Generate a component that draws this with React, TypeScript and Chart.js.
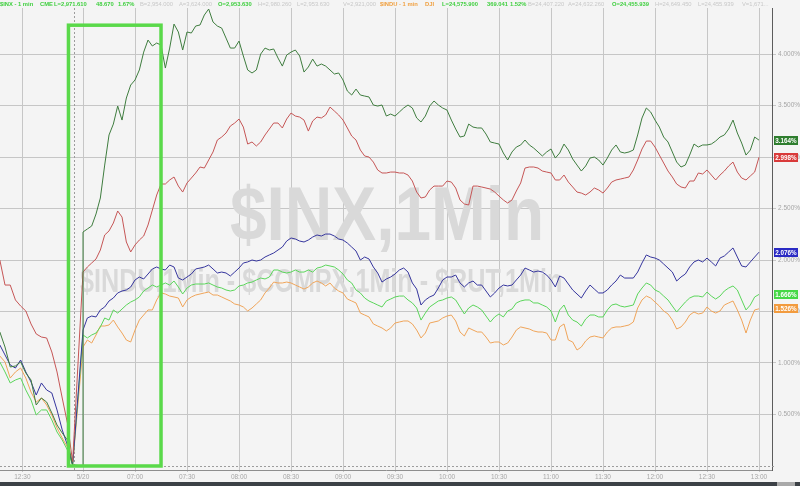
import React, { useEffect, useRef } from "react";
import { Chart, registerables } from "chart.js";

Chart.register(...registerables);

// ---- Data (percent change, minutes relative to 5/20 session start) ----
const prevDayTimes = [-48, -45, -42, -39, -36, -33, -30, -27, -24, -21, -18, -15, -12, -9, -6];
const todayTimes = [
  0, 5, 10, 15, 20, 25, 30, 35, 40, 45, 50, 55, 60, 65, 70, 75, 80, 85, 90, 95,
  100, 105, 110, 115, 120, 125, 130, 135, 140, 145, 150, 155, 160, 165, 170, 175, 180, 185, 190, 195,
  200, 205, 210, 215, 220, 225, 230, 235, 240, 245, 250, 255, 260, 265, 270, 275, 280, 285, 290, 295,
  300, 305, 310, 315, 320, 325, 330, 335, 340, 345, 350, 355, 360, 365, 370, 375, 380, 385, 390,
];
const midTimes = [
  2.5, 7.5, 12.5, 17.5, 22.5, 27.5, 32.5, 37.5, 42.5, 47.5, 52.5, 57.5, 62.5, 67.5, 72.5, 77.5, 82.5, 87.5, 92.5, 97.5,
  102.5, 107.5, 112.5, 117.5, 122.5, 127.5, 132.5, 137.5, 142.5, 147.5, 152.5, 157.5, 162.5, 167.5, 172.5, 177.5, 182.5, 187.5, 192.5, 197.5,
  202.5, 207.5, 212.5, 217.5, 222.5, 227.5, 232.5, 237.5, 242.5, 247.5, 252.5, 257.5, 262.5, 267.5, 272.5, 277.5, 282.5, 287.5, 292.5, 297.5,
  302.5, 307.5, 312.5, 317.5, 322.5, 327.5, 332.5, 337.5, 342.5, 347.5, 352.5, 357.5, 362.5, 367.5, 372.5, 377.5, 382.5, 387.5,
];

const xTickTimes = [-35, 0, 30, 60, 90, 120, 150, 180, 210, 240, 270, 300, 330, 360, 390];
const xTickLabels = [
  "12:30", "5/20", "07:00", "07:30", "08:00", "08:30", "09:00", "09:30",
  "10:00", "10:30", "11:00", "11:30", "12:00", "12:30", "13:00",
];
const yTickValues = [0.5, 1, 1.5, 2, 2.5, 3, 3.5, 4];

const sessionBreakTime = -5;
const highlightFrom = -8.4;
const highlightTo = 45;
const highlightTop = 4.28;
const highlightBottom = 0;

const darkGreenPrev = [1.301, 1.155, 0.961, 0.971, 1.01, 0.903, 0.835, 0.592, 0.66, 0.621, 0.515, 0.398, 0.32, 0.252, 0.01];
const darkGreenOpenGap = 0;
const darkGreenToday = [
  2.272, 2.33, 2.602, 3.214, 3.495, 3.573, 3.748, 4.019, 4.078, 4.087,
  4.058, 4.214, 4.214, 4.272, 4.379, 4.311, 4.252, 4.058, 4.126, 3.845,
  3.845, 4.058, 4.049, 3.883, 4.019, 3.981, 3.874, 3.883, 3.883, 3.806,
  3.748, 3.602, 3.602, 3.583, 3.495, 3.398, 3.398, 3.476, 3.476, 3.34,
  3.495, 3.505, 3.456, 3.272, 3.204, 3.291, 3.282, 3.146, 3.126, 2.971,
  3.097, 3.165, 3.087, 3.01, 3.078, 3.039, 3.068, 2.922, 2.913, 3.0,
  2.922, 3.068, 3.049, 3.049, 3.214, 3.476, 3.359, 3.194, 3.049, 2.903,
  3.019, 3.097, 3.117, 3.155, 3.214, 3.359, 3.136, 3.068, 3.164,
];
const darkGreenMid = [
  2.301, 2.447, 2.922, 3.32, 3.359, 3.699, 3.845, 4.136, 4.107, 3.864,
  4.291, 4.039, 4.204, 4.282, 4.437, 4.272, 4.155, 4.058, 3.981, 3.816,
  4.0, 4.039, 3.961, 3.99, 4.039, 3.825, 3.951, 3.903, 3.845, 3.816,
  3.641, 3.66, 3.592, 3.505, 3.505, 3.417, 3.437, 3.505, 3.379, 3.398,
  3.544, 3.476, 3.359, 3.194, 3.32, 3.282, 3.223, 3.136, 3.039, 3.049,
  3.117, 3.117, 3.049, 3.049, 2.99, 3.126, 2.981, 2.864, 2.99, 2.971,
  2.99, 3.117, 3.039, 3.068, 3.379, 3.437, 3.291, 3.146, 2.951, 2.922,
  3.126, 3.117, 3.126, 3.194, 3.272, 3.233, 3.019, 3.194,
];

const redPrev = [2.0, 1.757, 1.757, 1.612, 1.553, 1.505, 1.379, 1.282, 1.252, 1.243, 1.107, 0.913, 0.66, 0.417, 0.039];
const redToday = [
  1.883, 1.971, 2.097, 2.282, 2.476, 2.175, 2.146, 2.233, 2.485, 2.738,
  2.777, 2.718, 2.748, 2.845, 2.893, 3.049, 3.194, 3.301, 3.369, 3.126,
  3.107, 3.214, 3.33, 3.282, 3.427, 3.388, 3.252, 3.388, 3.408, 3.447,
  3.359, 3.204, 3.068, 3.0, 2.874, 2.845, 2.854, 2.845, 2.767, 2.602,
  2.68, 2.718, 2.767, 2.699, 2.544, 2.718, 2.709, 2.689, 2.621, 2.553,
  2.67, 2.893, 2.903, 2.864, 2.845, 2.777, 2.757, 2.66, 2.631, 2.699,
  2.65, 2.757, 2.786, 2.806, 2.971, 3.155, 3.097, 2.942, 2.806, 2.709,
  2.767, 2.845, 2.874, 2.777, 2.864, 2.951, 2.796, 2.816, 2.998,
];
const redMid = [
  1.932, 2.01, 2.243, 2.359, 2.417, 2.078, 2.194, 2.34, 2.631, 2.738,
  2.806, 2.66, 2.796, 2.903, 2.971, 3.165, 3.233, 3.33, 3.291, 3.146,
  3.146, 3.272, 3.33, 3.369, 3.398, 3.359, 3.35, 3.379, 3.485, 3.408,
  3.282, 3.165, 3.01, 2.951, 2.845, 2.854, 2.845, 2.825, 2.66, 2.612,
  2.718, 2.718, 2.757, 2.583, 2.534, 2.718, 2.699, 2.66, 2.583, 2.583,
  2.748, 2.903, 2.893, 2.854, 2.777, 2.825, 2.709, 2.65, 2.66, 2.68,
  2.699, 2.777, 2.796, 2.874, 3.078, 3.155, 3.019, 2.864, 2.738, 2.699,
  2.767, 2.835, 2.825, 2.825, 2.913, 2.854, 2.777, 2.854,
];

const bluePrev = [1.175, 1.078, 0.981, 0.951, 1.029, 0.913, 0.816, 0.689, 0.806, 0.738, 0.709, 0.544, 0.35, 0.204, 0.01];
const blueToday = [
  1.32, 1.456, 1.515, 1.602, 1.68, 1.709, 1.806, 1.816, 1.913, 1.913,
  1.951, 1.825, 1.835, 1.913, 1.932, 1.913, 1.883, 1.845, 1.922, 1.981,
  1.99, 2.029, 2.068, 2.126, 2.214, 2.184, 2.194, 2.243, 2.252, 2.233,
  2.194, 2.126, 2.0, 2.01, 1.874, 1.816, 1.864, 1.922, 1.777, 1.563,
  1.641, 1.728, 1.835, 1.854, 1.738, 1.796, 1.757, 1.641, 1.728, 1.748,
  1.806, 1.922, 1.883, 1.883, 1.806, 1.845, 1.767, 1.67, 1.699, 1.718,
  1.68, 1.757, 1.854, 1.825, 1.883, 2.049, 2.019, 1.961, 1.883, 1.835,
  1.932, 2.0, 2.019, 1.942, 2.039, 2.117, 1.942, 1.981, 2.076,
];
const blueMid = [
  1.437, 1.447, 1.544, 1.631, 1.699, 1.738, 1.835, 1.864, 1.932, 1.903,
  1.932, 1.806, 1.864, 1.922, 1.951, 1.874, 1.874, 1.883, 1.971, 2.0,
  2.0, 2.049, 2.097, 2.184, 2.204, 2.175, 2.223, 2.233, 2.252, 2.204,
  2.165, 2.087, 2.029, 1.932, 1.786, 1.835, 1.903, 1.883, 1.718, 1.612,
  1.66, 1.806, 1.835, 1.777, 1.777, 1.757, 1.699, 1.68, 1.757, 1.757,
  1.854, 1.903, 1.893, 1.854, 1.738, 1.825, 1.709, 1.631, 1.757, 1.68,
  1.709, 1.796, 1.825, 1.825, 1.971, 2.029, 2.0, 1.922, 1.796, 1.864,
  1.981, 1.981, 1.981, 2.019, 2.078, 2.029, 1.932, 2.029,
];

const brightGreenPrev = [1.01, 0.913, 0.806, 0.835, 0.854, 0.738, 0.641, 0.495, 0.544, 0.544, 0.447, 0.33, 0.252, 0.155, 0.01];
const brightGreenToday = [
  1.272, 1.272, 1.35, 1.417, 1.485, 1.563, 1.612, 1.699, 1.757, 1.757,
  1.757, 1.738, 1.728, 1.767, 1.767, 1.757, 1.728, 1.699, 1.748, 1.777,
  1.806, 1.816, 1.903, 1.883, 1.883, 1.883, 1.903, 1.922, 1.951, 1.932,
  1.864, 1.777, 1.68, 1.602, 1.563, 1.602, 1.641, 1.65, 1.583, 1.417,
  1.544, 1.602, 1.631, 1.612, 1.476, 1.563, 1.515, 1.398, 1.476, 1.505,
  1.583, 1.612, 1.583, 1.563, 1.505, 1.515, 1.466, 1.398, 1.427, 1.466,
  1.447, 1.563, 1.553, 1.553, 1.67, 1.777, 1.709, 1.65, 1.553, 1.544,
  1.631, 1.65, 1.689, 1.621, 1.699, 1.748, 1.612, 1.563, 1.666,
];
const brightGreenMid = [
  1.243, 1.291, 1.437, 1.515, 1.524, 1.592, 1.641, 1.728, 1.738, 1.777,
  1.796, 1.67, 1.757, 1.767, 1.777, 1.738, 1.709, 1.709, 1.757, 1.786,
  1.825, 1.835, 1.903, 1.874, 1.903, 1.883, 1.883, 1.932, 1.942, 1.903,
  1.806, 1.709, 1.631, 1.583, 1.544, 1.621, 1.65, 1.612, 1.534, 1.485,
  1.573, 1.612, 1.641, 1.544, 1.534, 1.544, 1.456, 1.447, 1.447, 1.524,
  1.602, 1.612, 1.583, 1.544, 1.398, 1.563, 1.417, 1.359, 1.466, 1.447,
  1.515, 1.573, 1.544, 1.563, 1.728, 1.757, 1.689, 1.612, 1.495, 1.592,
  1.65, 1.641, 1.65, 1.65, 1.728, 1.709, 1.515, 1.641,
];

const orangePrev = [1.068, 1.01, 0.854, 0.913, 0.951, 0.854, 0.718, 0.621, 0.66, 0.592, 0.495, 0.369, 0.272, 0.184, 0.01];
const orangeToday = [
  1.155, 1.194, 1.359, 1.369, 1.35, 1.223, 1.32, 1.466, 1.515, 1.68,
  1.65, 1.631, 1.612, 1.66, 1.68, 1.66, 1.641, 1.602, 1.563, 1.505,
  1.573, 1.68, 1.786, 1.777, 1.777, 1.738, 1.738, 1.796, 1.748, 1.728,
  1.68, 1.602, 1.485, 1.447, 1.359, 1.311, 1.388, 1.408, 1.379, 1.243,
  1.388, 1.408, 1.456, 1.408, 1.262, 1.32, 1.301, 1.194, 1.204, 1.194,
  1.32, 1.34, 1.311, 1.301, 1.223, 1.35, 1.223, 1.126, 1.214, 1.262,
  1.243, 1.34, 1.35, 1.369, 1.534, 1.65, 1.592, 1.505, 1.417, 1.35,
  1.466, 1.476, 1.544, 1.485, 1.563, 1.602, 1.417, 1.417, 1.526,
];
const orangeMid = [
  1.223, 1.272, 1.359, 1.417, 1.291, 1.204, 1.417, 1.515, 1.612, 1.67,
  1.641, 1.544, 1.641, 1.67, 1.689, 1.66, 1.621, 1.573, 1.544, 1.534,
  1.612, 1.728, 1.777, 1.786, 1.757, 1.718, 1.777, 1.777, 1.777, 1.699,
  1.621, 1.583, 1.466, 1.379, 1.34, 1.34, 1.398, 1.408, 1.32, 1.291,
  1.398, 1.437, 1.466, 1.301, 1.34, 1.301, 1.252, 1.204, 1.175, 1.252,
  1.35, 1.33, 1.301, 1.291, 1.223, 1.379, 1.204, 1.155, 1.252, 1.252,
  1.301, 1.35, 1.359, 1.398, 1.612, 1.631, 1.553, 1.476, 1.33, 1.398,
  1.495, 1.485, 1.505, 1.505, 1.583, 1.515, 1.291, 1.515,
];

const seriesNames = ["$COMPX", "$RUT", "$NDX", "$INX", "$INDU"];
const lineColors = ["#3f7d3f", "#c65656", "#36369e", "#5bd65b", "#f0a55a"];
const badgeColors = ["#2e7d2e", "#d93a3a", "#2a2ac4", "#45d845", "#f29b3e"];

const headerSegments = [
  { text: "$INX - 1 min", x: 0, color: "#3fcf3f", bold: true },
  { text: "CME", x: 40, color: "#3fcf3f", bold: true },
  { text: "L=2,971.610", x: 54, color: "#3fcf3f", bold: true },
  { text: "48.670", x: 96, color: "#3fcf3f", bold: true },
  { text: "1.67%", x: 118, color: "#3fcf3f", bold: true },
  { text: "B=2,954.000", x: 140, color: "#c8c8c8", bold: false },
  { text: "A=3,624.000", x: 179, color: "#c8c8c8", bold: false },
  { text: "O=2,953.630", x: 218, color: "#3fcf3f", bold: true },
  { text: "H=2,980.260", x: 258, color: "#c8c8c8", bold: false },
  { text: "L=2,953.630", x: 297, color: "#c8c8c8", bold: false },
  { text: "V=2,921,000", x: 343, color: "#c8c8c8", bold: false },
  { text: "$INDU - 1 min", x: 380, color: "#f0a040", bold: true },
  { text: "DJI", x: 425, color: "#f0a040", bold: true },
  { text: "L=24,575.900", x: 442, color: "#3fcf3f", bold: true },
  { text: "369.041", x: 487, color: "#3fcf3f", bold: true },
  { text: "1.52%", x: 510, color: "#3fcf3f", bold: true },
  { text: "B=24,407.220", x: 528, color: "#c8c8c8", bold: false },
  { text: "A=24,632.260", x: 568, color: "#c8c8c8", bold: false },
  { text: "O=24,455.939", x: 612, color: "#3fcf3f", bold: true },
  { text: "H=24,649.450", x: 655, color: "#c8c8c8", bold: false },
  { text: "L=24,455.939", x: 698, color: "#c8c8c8", bold: false },
  { text: "V=1,671...", x: 742, color: "#c8c8c8", bold: false },
];

const FONT = "Arial, 'Liberation Sans', Helvetica, sans-serif";

function buildPoints(prev: number[], today: number[], mid: number[], gap: number | null) {
  const pts: { x: number; y: number }[] = prevDayTimes.map((t, i) => ({ x: t, y: prev[i] }));
  if (gap !== null) pts.push({ x: todayTimes[0], y: gap });
  const session = [
    ...todayTimes.map((t, i) => ({ x: t, y: today[i] })),
    ...midTimes.map((t, i) => ({ x: t, y: mid[i] })),
  ].sort((a, b) => a.x - b.x);
  return pts.concat(session);
}

const overlayPlugin = {
  id: "overlay",
  beforeDraw(chart: any) {
    const ctx = chart.ctx;
    ctx.save();
    ctx.fillStyle = "#f4f4f4";
    ctx.fillRect(0, 0, chart.width, chart.height);
    ctx.restore();
  },
  beforeDatasetsDraw(chart: any) {
    const ctx = chart.ctx;
    const xs = chart.scales.x;
    const ys = chart.scales.y;
    const area = chart.chartArea;
    ctx.save();
    ctx.fillStyle = "#d9d9d9";
    ctx.textBaseline = "alphabetic";
    ctx.textAlign = "left";
    ctx.save();
    ctx.translate(230, 240);
    ctx.scale(0.865, 1);
    ctx.font = `bold 76px ${FONT}`;
    ctx.fillText("$INX,1Min", 0, 0);
    ctx.restore();
    ctx.save();
    ctx.translate(80, 292);
    ctx.scale(0.74, 1);
    ctx.font = `bold 34px ${FONT}`;
    ctx.fillText("$INDU,1Min - $COMPX,1Min - $RUT,1Min", 0, 0);
    ctx.restore();
    ctx.strokeStyle = "#9c9c9c";
    ctx.lineWidth = 1;
    ctx.setLineDash([2, 2]);
    const y0 = Math.round(ys.getPixelForValue(0)) + 0.5;
    ctx.beginPath();
    ctx.moveTo(area.left, y0);
    ctx.lineTo(area.right + 3, y0);
    ctx.stroke();
    const xb = Math.round(xs.getPixelForValue(sessionBreakTime)) + 0.5;
    ctx.beginPath();
    ctx.moveTo(xb, area.top);
    ctx.lineTo(xb, area.bottom);
    ctx.stroke();
    ctx.restore();
  },
  afterDatasetsDraw(chart: any) {
    const ctx = chart.ctx;
    const xs = chart.scales.x;
    const ys = chart.scales.y;
    const x1 = xs.getPixelForValue(highlightFrom);
    const x2 = xs.getPixelForValue(highlightTo);
    const y1 = ys.getPixelForValue(highlightTop);
    const y2 = ys.getPixelForValue(highlightBottom);
    ctx.save();
    ctx.strokeStyle = "#5ad94a";
    ctx.lineWidth = 3.5;
    ctx.strokeRect(x1, y1, x2 - x1, y2 - y1);
    ctx.restore();
  },
  afterDraw(chart: any) {
    const ctx = chart.ctx;
    const ys = chart.scales.y;
    const area = chart.chartArea;
    ctx.save();
    ctx.textBaseline = "middle";
    ctx.textAlign = "left";
    headerSegments.forEach((s) => {
      ctx.font = `${s.bold ? "bold " : ""}5.8px ${FONT}`;
      ctx.fillStyle = s.color;
      ctx.fillText(s.text, s.x, 4.5);
    });
    const lasts = [darkGreenToday, redToday, blueToday, brightGreenToday, orangeToday].map((a) => a[a.length - 1]);
    ctx.textAlign = "center";
    ctx.font = `bold 6.3px ${FONT}`;
    lasts.forEach((v, i) => {
      const y = ys.getPixelForValue(v);
      ctx.fillStyle = badgeColors[i];
      ctx.fillRect(area.right + 2, Math.round(y - 4.5), 24, 9);
      ctx.fillStyle = "#ffffff";
      ctx.fillText(`${v.toFixed(3)}%`, area.right + 14, Math.round(y - 4.5) + 4.8);
    });
    ctx.fillStyle = "#3c4146";
    ctx.fillRect(0, 482, 777, 4);
    ctx.fillStyle = "#a9a9a9";
    ctx.fillRect(777, 482, 18, 4);
    ctx.fillStyle = "#3c4146";
    ctx.fillRect(795, 482, 5, 4);
    ctx.restore();
  },
};

export default function App() {
  const canvasRef = useRef<HTMLCanvasElement | null>(null);

  useEffect(() => {
    const canvas = canvasRef.current;
    if (!canvas) return;
    const prevs = [darkGreenPrev, redPrev, bluePrev, brightGreenPrev, orangePrev];
    const todays = [darkGreenToday, redToday, blueToday, brightGreenToday, orangeToday];
    const mids = [darkGreenMid, redMid, blueMid, brightGreenMid, orangeMid];
    const gaps: (number | null)[] = [darkGreenOpenGap, null, null, null, null];
    const datasets = seriesNames.map((name, i) => ({
      label: name,
      data: buildPoints(prevs[i], todays[i], mids[i], gaps[i]),
      borderColor: lineColors[i],
      backgroundColor: lineColors[i],
      borderWidth: 1,
      pointRadius: 0,
      tension: 0,
      fill: false,
    }));

    const chart = new Chart(canvas, {
      type: "line",
      data: { datasets },
      options: {
        animation: false,
        responsive: false,
        maintainAspectRatio: false,
        layout: { padding: { top: 8, left: 0, right: 0, bottom: 0 } },
        plugins: { legend: { display: false }, tooltip: { enabled: false } },
        scales: {
          x: {
            type: "linear",
            position: "bottom",
            min: -47.9,
            max: 397.5,
            afterBuildTicks: (s: any) => {
              s.ticks = xTickTimes.map((v) => ({ value: v }));
            },
            afterFit: (s: any) => {
              s.height = 16;
            },
            ticks: {
              autoSkip: false,
              maxRotation: 0,
              minRotation: 0,
              padding: 1,
              color: "#a6a6a6",
              font: { family: FONT, size: 6.5 },
              callback: (_v: any, i: number) => xTickLabels[i],
            },
            grid: { color: "#c6c6c6", lineWidth: 1, tickLength: 2 },
            border: { display: true, color: "#8e8e8e" },
          },
          y: {
            type: "linear",
            position: "right",
            min: -0.039,
            max: 4.447,
            afterBuildTicks: (s: any) => {
              s.ticks = yTickValues.map((v) => ({ value: v }));
            },
            afterFit: (s: any) => {
              s.width = 28;
            },
            ticks: {
              padding: 2,
              color: "#a6a6a6",
              font: { family: FONT, size: 6.5 },
              callback: (v: any) => `${Number(v).toFixed(3)}%`,
            },
            grid: { color: "#c6c6c6", lineWidth: 1, tickLength: 4 },
            border: { display: true, color: "#5c5c5c" },
          },
        },
      } as any,
      plugins: [overlayPlugin],
    });
    return () => chart.destroy();
  }, []);

  return (
    <div style={{ position: "absolute", left: 0, top: 0, width: 800, height: 486 }}>
      <canvas ref={canvasRef} width={800} height={486} style={{ display: "block", width: 800, height: 486 }} />
    </div>
  );
}
